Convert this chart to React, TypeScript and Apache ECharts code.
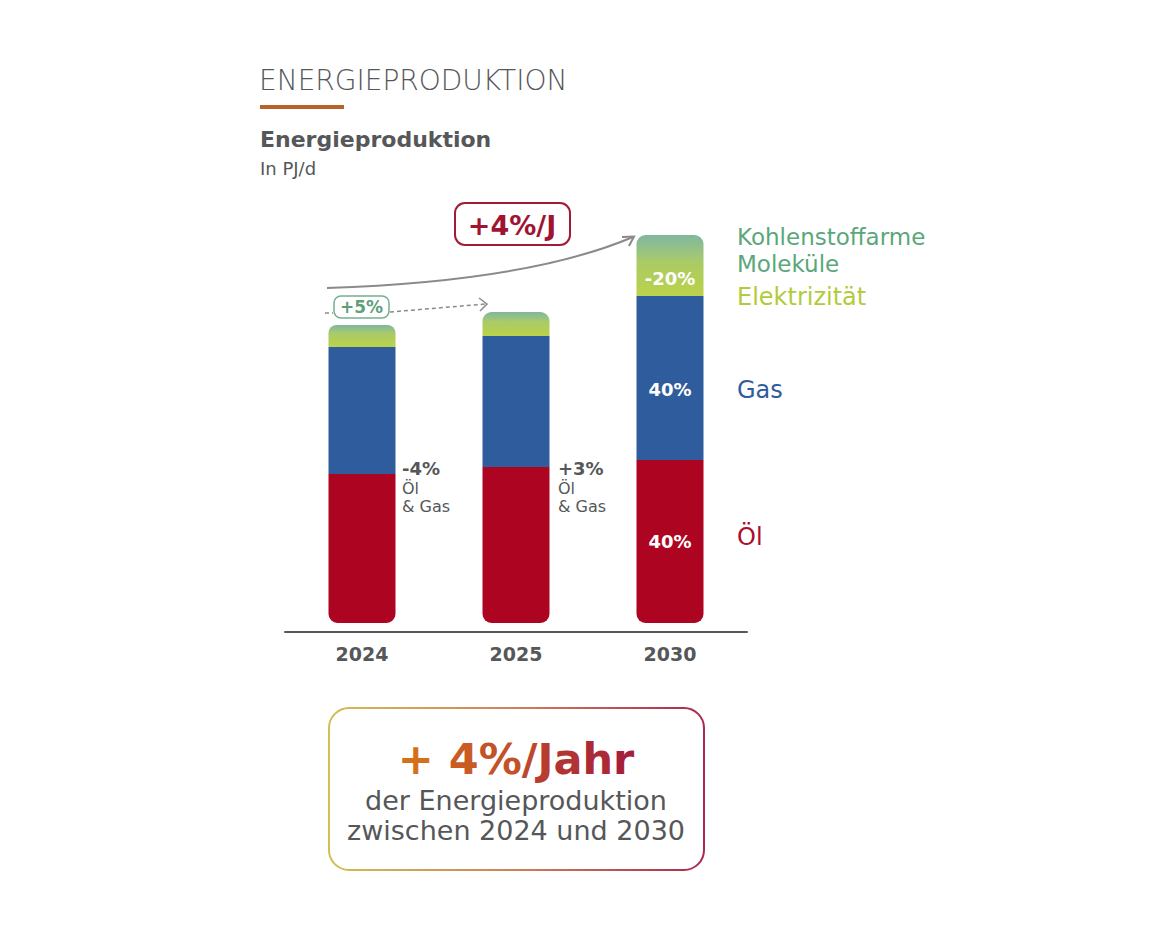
import React, { useEffect, useRef } from "react";
import * as echarts from "echarts";

// Energy production in PJ/d, stacked by source
const years = ["2024", "2025", "2030"];
const oil = [14.9, 15.6, 16.3];
const gas = [12.7, 13.1, 16.4];
const electricity = [1.4, 1.5, 3.6];
const lowCarbon = [0.8, 0.9, 2.5];

// Share labels printed on the 2030 bar
const oilShareLabels = ["", "", "40%"];
const gasShareLabels = ["", "", "40%"];
const electricityShareLabels = ["", "", "-20%"];

// Change notes beside the 2024 and 2025 bars
const changeNotes = ["-4%", "+3%"];

const FONT = "'DejaVu Sans', 'Open Sans', sans-serif";
const GREY = "#555759";
const RED = "#ad0422";
const BLUE = "#2f5c9c";

// Blend two hex colours, t in [0, 1]
function mix(a: string, b: string, t: number) {
  const pa = [1, 3, 5].map((i) => parseInt(a.slice(i, i + 2), 16));
  const pb = [1, 3, 5].map((i) => parseInt(b.slice(i, i + 2), 16));
  const c = pa.map((v, i) => Math.round(v + (pb[i] - v) * t));
  return "#" + c.map((v) => v.toString(16).padStart(2, "0")).join("");
}

// Rich text that fades character by character from one colour to another
function fadedText(text: string, from: string, to: string, size: number) {
  const chars = Array.from(text);
  const rich: Record<string, any> = {};
  const parts = chars.map((ch, i) => {
    const key = "c" + i;
    rich[key] = {
      fill: mix(from, to, chars.length > 1 ? i / (chars.length - 1) : 0),
      fontSize: size,
      fontWeight: "bold",
      fontFamily: FONT,
    };
    return `{${key}|${ch}}`;
  });
  return { text: parts.join(""), rich };
}

export default function App() {
  const ref = useRef<HTMLDivElement>(null);

  useEffect(() => {
    if (!ref.current) return;
    const chart = echarts.init(ref.current, null, { renderer: "svg" });

    const shareLabel = (texts: string[], offsetY = 0) => ({
      show: true,
      position: "inside",
      offset: [0, offsetY],
      color: "#ffffff",
      fontFamily: FONT,
      fontWeight: "bold",
      fontSize: 18,
      formatter: (p: any) => texts[p.dataIndex],
    });

    const lowCarbonGrad = new echarts.graphic.LinearGradient(0, 0, 0, 1, [
      { offset: 0, color: "#80b79f" },
      { offset: 1, color: "#a6c970" },
    ]);
    const electricityGrad = new echarts.graphic.LinearGradient(0, 0, 0, 1, [
      { offset: 0, color: "#a9ca66" },
      { offset: 1, color: "#bbd24a" },
    ]);

    const txt = (
      x: number,
      y: number,
      text: string,
      size: number,
      fill: any,
      weight: string | number = "normal",
      align = "left"
    ) => ({
      type: "text",
      x,
      y,
      style: {
        text,
        fill,
        fontSize: size,
        fontWeight: weight,
        fontFamily: FONT,
        align,
        verticalAlign: "middle",
      },
    });

    const headline = fadedText("+ 4%/Jahr", "#d4701c", "#a61f3b", 43);

    chart.setOption({
      animation: false,
      backgroundColor: "#ffffff",
      grid: { left: 285, right: 405, top: 223, bottom: 305 },
      xAxis: {
        type: "category",
        data: years,
        offset: 9,
        axisLine: {
          show: true,
          onZero: false,
          lineStyle: { color: GREY, width: 2 },
        },
        axisTick: { show: false },
        axisLabel: {
          color: GREY,
          fontFamily: FONT,
          fontWeight: "bold",
          fontSize: 19,
          margin: 12,
        },
      },
      yAxis: {
        type: "value",
        min: 0,
        max: 40,
        show: false,
        splitLine: { show: false },
      },
      series: [
        {
          name: "Öl",
          type: "bar",
          stack: "total",
          barWidth: 67,
          data: oil,
          itemStyle: { color: RED, borderRadius: [0, 0, 9, 9] },
          label: shareLabel(oilShareLabels, 0),
        },
        {
          name: "Gas",
          type: "bar",
          stack: "total",
          barWidth: 67,
          data: gas,
          itemStyle: { color: BLUE },
          label: shareLabel(gasShareLabels, 11),
        },
        {
          name: "Elektrizität",
          type: "bar",
          stack: "total",
          barWidth: 67,
          data: electricity,
          itemStyle: { color: electricityGrad },
          label: shareLabel(electricityShareLabels, 0),
        },
        {
          name: "Kohlenstoffarme Moleküle",
          type: "bar",
          stack: "total",
          barWidth: 67,
          data: lowCarbon,
          itemStyle: { color: lowCarbonGrad, borderRadius: [9, 9, 0, 0] },
        },
      ],
      graphic: [
        // Heading block
        txt(259, 80, "ENERGIEPRODUKTION", 28, GREY, 300),
        {
          type: "rect",
          shape: { x: 260, y: 105, width: 84, height: 4 },
          style: { fill: "#b8622a" },
        },
        txt(260, 139, "Energieproduktion", 22, GREY, "bold"),
        txt(260, 168, "In PJ/d", 18, GREY),

        // Overall growth arrow 2024 -> 2030
        {
          type: "bezierCurve",
          shape: {
            x1: 327, y1: 288,
            cpx1: 450, cpy1: 284,
            cpx2: 560, cpy2: 268,
            x2: 633, y2: 237,
          },
          style: { stroke: "#8a8a8a", lineWidth: 2, fill: null },
        },
        {
          type: "polyline",
          shape: { points: [[622, 237], [634, 236.5], [629, 246]] },
          style: { stroke: "#8a8a8a", lineWidth: 2, fill: null },
        },
        {
          type: "rect",
          shape: { x: 455, y: 203, width: 115, height: 42, r: 10 },
          style: { fill: "#ffffff", stroke: "#a31a38", lineWidth: 2 },
        },
        txt(512, 225, "+4%/J", 27, "#a01432", "bold", "center"),

        // Short-term growth arrow 2024 -> 2025
        {
          type: "line",
          shape: { x1: 325, y1: 313, x2: 333, y2: 313 },
          style: { stroke: "#8a8a8a", lineWidth: 1.5, lineDash: [4, 3] },
        },
        {
          type: "line",
          shape: { x1: 390, y1: 312, x2: 486, y2: 304 },
          style: { stroke: "#8a8a8a", lineWidth: 1.5, lineDash: [4, 3] },
        },
        {
          type: "polyline",
          shape: { points: [[479, 298], [487, 304], [480, 311]] },
          style: { stroke: "#8a8a8a", lineWidth: 1.5, fill: null },
        },
        {
          type: "rect",
          shape: { x: 334, y: 296, width: 55, height: 22, r: 7 },
          style: { fill: "#ffffff", stroke: "#74b08d", lineWidth: 1.5 },
        },
        txt(361.5, 307, "+5%", 17, "#5f9f7a", "bold", "center"),

        // Change notes for oil & gas
        txt(402, 468, changeNotes[0], 18, GREY, "bold"),
        txt(402, 488, "Öl", 16, GREY),
        txt(402, 506, "& Gas", 16, GREY),
        txt(558, 468, changeNotes[1], 18, GREY, "bold"),
        txt(558, 488, "Öl", 16, GREY),
        txt(558, 506, "& Gas", 16, GREY),

        // Source names beside the 2030 bar
        txt(737, 237, "Kohlenstoffarme", 23, "#5aa77a"),
        txt(737, 264, "Moleküle", 23, "#5aa77a"),
        txt(737, 297, "Elektrizität", 24, "#b3cb3a"),
        txt(737, 390, "Gas", 24, BLUE),
        txt(737, 537, "Öl", 24, "#a8102e"),

        // Summary box
        {
          type: "rect",
          shape: { x: 329, y: 708, width: 375, height: 162, r: 20 },
          style: {
            fill: "#ffffff",
            lineWidth: 2,
            stroke: new echarts.graphic.LinearGradient(0, 0, 1, 0, [
              { offset: 0, color: "#d2bf52" },
              { offset: 0.5, color: "#cf7f5a" },
              { offset: 1, color: "#a82a4e" },
            ]),
          },
        },
        {
          type: "text",
          x: 516,
          y: 759,
          style: {
            text: headline.text,
            rich: headline.rich,
            align: "center",
            verticalAlign: "middle",
            fontSize: 43,
            fontFamily: FONT,
          },
        },
        txt(516, 800, "der Energieproduktion", 27, GREY, "normal", "center"),
        txt(516, 830, "zwischen 2024 und 2030", 27, GREY, "normal", "center"),
      ],
    });

    return () => chart.dispose();
  }, []);

  return (
    <div
      ref={ref}
      style={{
        position: "fixed",
        left: 0,
        top: 0,
        width: 1152,
        height: 928,
        background: "#ffffff",
      }}
    />
  );
}
